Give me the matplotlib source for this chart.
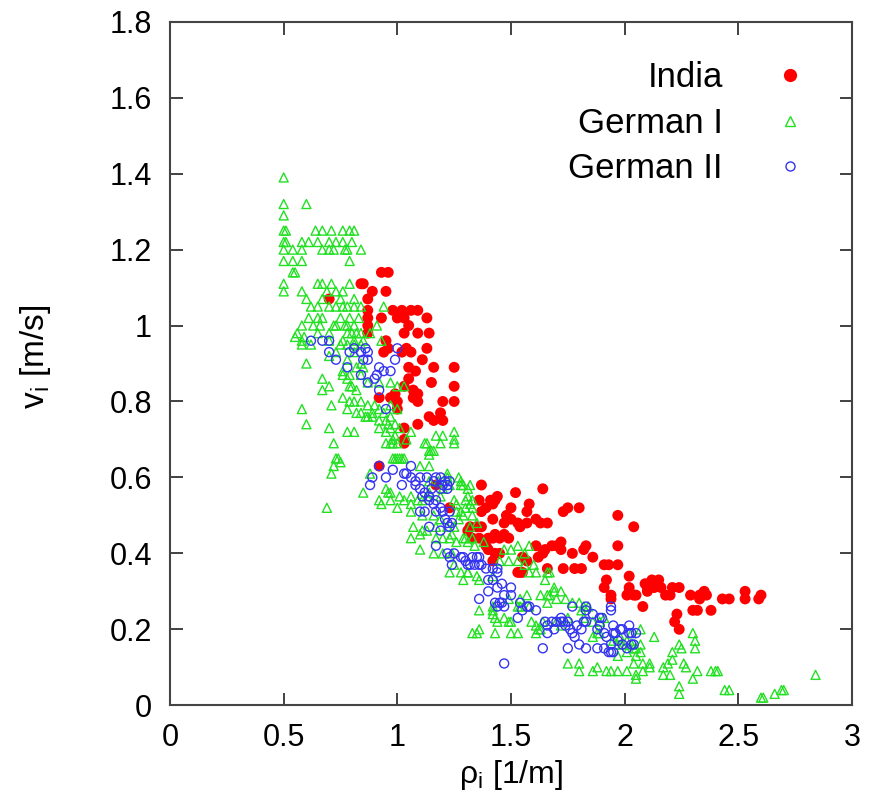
import matplotlib
matplotlib.use("Agg")
import matplotlib.pyplot as plt
from matplotlib.lines import Line2D

# ---------------- data ----------------
india_pts = [
    (0.70,1.07),(0.84,1.11),(0.85,1.11),(0.93,1.14),(0.96,1.14),(0.89,1.09),(0.95,1.09),(0.87,1.07),
    (0.87,1.04),(0.98,1.04),(1.02,1.04),(1.06,1.04),(1.09,1.04),
    (0.87,1.02),(0.93,1.02),(1.00,1.02),(1.03,1.02),(1.13,1.02),
    (0.87,1.00),(1.05,1.00),
    (0.87,0.98),(1.03,0.98),(1.09,0.98),(1.14,0.98),
    (0.95,0.96),
    (0.96,0.94),(1.04,0.94),(1.13,0.94),
    (0.94,0.93),(1.02,0.93),(1.06,0.93),
    (1.11,0.91),
    (1.05,0.89),(1.16,0.89),(1.25,0.89),
    (1.08,0.88),(1.05,0.86),(1.15,0.85),(1.25,0.84),(1.03,0.84),(1.07,0.83),
    (0.99,0.82),(0.97,0.81),(0.92,0.81),(1.00,0.80),(1.07,0.81),(1.09,0.82),(1.09,0.80),(1.00,0.78),
    (1.20,0.80),(1.25,0.80),(1.19,0.77),(1.14,0.76),(1.16,0.75),(1.20,0.75),(1.09,0.74),(1.03,0.73),
    (1.03,0.70),(1.03,0.69),(0.92,0.63),(1.17,0.58),(1.23,0.52),
    (1.37,0.58),(1.36,0.54),(1.41,0.54),(1.44,0.55),(1.39,0.52),(1.42,0.53),(1.43,0.54),(1.37,0.51),
    (1.50,0.52),(1.58,0.53),(1.52,0.56),(1.64,0.57),(1.75,0.52),(1.80,0.52),(1.73,0.51),(1.97,0.50),
    (2.04,0.47),(1.42,0.49),(1.48,0.50),(1.50,0.49),(1.47,0.48),(1.57,0.51),(1.57,0.48),(1.61,0.49),
    (1.63,0.48),(1.66,0.48),(1.32,0.47),(1.35,0.47),(1.37,0.47),(1.31,0.46),(1.33,0.44),(1.36,0.44),
    (1.40,0.44),(1.43,0.45),(1.47,0.45),(1.49,0.44),(1.45,0.44),(1.42,0.44),(1.53,0.48),(1.54,0.47),
    (1.39,0.42),(1.40,0.41),(1.45,0.40),(1.43,0.40),(1.42,0.38),(1.55,0.39),(1.57,0.38),(1.54,0.35),
    (1.53,0.35),(1.55,0.35),(1.61,0.42),(1.65,0.41),(1.68,0.42),(1.70,0.42),(1.72,0.43),(1.72,0.41),
    (1.62,0.39),(1.64,0.40),(1.66,0.36),(1.73,0.36),(1.78,0.36),(1.81,0.36),(1.77,0.40),(1.82,0.41),
    (1.83,0.42),(1.86,0.39),(1.91,0.37),(1.93,0.37),(1.97,0.37),(1.97,0.42),(1.92,0.33),(1.91,0.31),
    (1.94,0.29),(1.94,0.28),(2.02,0.34),(2.02,0.31),(2.02,0.30),(2.04,0.29),(2.01,0.29),(2.05,0.29),
    (2.08,0.26),(2.09,0.32),(2.12,0.33),(2.15,0.33),(2.10,0.31),(2.10,0.30),(2.13,0.31),(2.16,0.31),
    (2.18,0.29),(2.20,0.29),(2.21,0.31),(2.24,0.31),(2.23,0.24),(2.22,0.22),(2.24,0.20),(2.29,0.29),
    (2.33,0.29),(2.35,0.30),(2.36,0.29),(2.33,0.28),(2.30,0.25),(2.32,0.25),(2.38,0.25),(2.43,0.28),
    (2.46,0.28),(2.53,0.30),(2.53,0.28),(2.60,0.29),(2.59,0.28),
]

german1_pts = [
    (0.50,1.39),(0.50,1.32),(0.60,1.32),(0.50,1.29),
    (0.50,1.25),(0.51,1.25),(0.64,1.25),(0.67,1.25),(0.71,1.25),(0.76,1.25),(0.79,1.25),(0.81,1.25),
    (0.50,1.22),(0.51,1.22),(0.58,1.22),(0.61,1.22),(0.65,1.22),(0.70,1.22),(0.73,1.22),(0.76,1.22),(0.80,1.22),
    (0.50,1.20),(0.54,1.20),(0.58,1.20),(0.67,1.20),(0.70,1.20),(0.72,1.20),(0.77,1.20),(0.78,1.20),(0.84,1.20),
    (0.50,1.17),(0.54,1.17),(0.58,1.17),(0.79,1.17),(0.54,1.14),(0.55,1.14),
    (0.50,1.11),(0.65,1.11),(0.67,1.11),(0.71,1.11),(0.79,1.11),
    (0.50,1.09),(0.58,1.09),(0.69,1.09),(0.73,1.09),(0.76,1.09),
    (0.60,1.07),(0.67,1.07),(0.75,1.07),(0.81,1.07),
    (0.62,1.05),(0.65,1.05),(0.70,1.05),(0.73,1.05),(0.76,1.05),(0.78,1.05),(0.81,1.05),(0.84,1.05),(0.94,1.05),
    (0.61,1.02),(0.65,1.02),(0.67,1.02),(0.75,1.02),(0.79,1.02),(0.83,1.02),
    (0.58,1.00),(0.63,1.00),(0.66,1.00),(0.72,1.00),(0.73,1.00),(0.77,1.00),(0.78,1.00),(0.81,1.00),(0.91,1.00),
    (0.56,0.98),(0.65,0.98),(0.70,0.98),(0.78,0.98),(0.80,0.98),(0.82,0.98),(0.84,0.98),(0.88,0.98),
    (0.55,0.97),(0.59,0.97),
    (0.58,0.96),(0.70,0.96),(0.76,0.96),(0.81,0.96),(0.85,0.96),(0.93,0.96),
    (0.58,0.95),(0.62,0.95),(0.75,0.95),(0.78,0.95),(0.81,0.95),(0.84,0.95),
    (0.60,0.90),(0.70,0.92),(0.73,0.93),(0.78,0.91),(0.81,0.93),(0.84,0.90),
    (0.76,0.88),(0.79,0.87),(0.82,0.89),(0.85,0.89),
    (0.67,0.86),(0.76,0.87),(0.78,0.86),(0.80,0.84),(0.84,0.87),(0.87,0.85),(0.92,0.85),(0.97,0.85),(1.00,0.84),(1.03,0.84),
    (0.67,0.83),(0.70,0.84),(0.79,0.84),(0.82,0.83),
    (0.58,0.78),(0.71,0.79),(0.76,0.81),(0.79,0.80),(0.81,0.80),(0.84,0.80),(0.87,0.79),(0.90,0.79),(0.92,0.78),(0.97,0.79),(1.00,0.78),
    (0.78,0.78),(0.84,0.77),(0.89,0.77),(0.94,0.77),
    (0.60,0.74),(0.70,0.73),(0.78,0.72),(0.81,0.72),(0.86,0.76),(0.89,0.76),(0.92,0.75),(0.97,0.76),(0.99,0.74),(0.92,0.73),(0.97,0.73),
    (0.72,0.69),(0.99,0.71),(0.97,0.69),(1.04,0.70),
    (0.73,0.65),(0.98,0.65),(1.01,0.65),(0.74,0.65),(0.72,0.63),(0.71,0.61),(0.69,0.52),
    (0.99,0.65),(1.03,0.65),(1.14,0.63),
    (0.85,0.56),(0.95,0.57),(0.97,0.56),(0.93,0.53),(1.00,0.52),(1.06,0.55),(1.09,0.54),(1.13,0.55),
    (1.22,0.60),(1.28,0.59),(1.28,0.58),(1.32,0.58),(1.31,0.55),(1.32,0.53),(1.33,0.52),(1.26,0.51),(1.29,0.50),
    (1.07,0.47),(1.11,0.46),(1.17,0.47),(1.22,0.47),(1.24,0.45),
    (0.82,0.77),(0.87,0.76),(0.95,0.75),(0.96,0.74),(1.01,0.73),(0.95,0.72),(0.98,0.70),(1.00,0.69),
    (1.06,0.72),(1.13,0.69),(1.16,0.67),(1.14,0.66),(1.17,0.71),(1.25,0.72),(1.25,0.70),(1.20,0.71),
    (0.75,0.64),(0.88,0.61),(0.96,0.56),(0.92,0.54),(0.97,0.54),
    (1.01,0.55),(1.03,0.54),(1.06,0.53),(1.11,0.54),(1.14,0.56),(1.19,0.55),(1.20,0.57),(1.23,0.58),
    (1.27,0.60),(1.31,0.57),(1.33,0.54),(1.30,0.52),(1.27,0.49),(1.25,0.47),(1.19,0.49),(1.16,0.50),
    (1.11,0.50),(1.06,0.51),(1.14,0.59),(1.18,0.59),(1.22,0.61),(1.00,0.65),(1.02,0.65),(1.10,0.63),
    (1.14,0.67),(1.12,0.69),(1.19,0.69),(1.25,0.69),(0.95,0.69),(0.98,0.69),
    (1.06,0.44),(1.10,0.45),(1.13,0.46),(1.17,0.44),(1.20,0.44),(1.23,0.44),(1.26,0.43),(1.29,0.44),
    (1.31,0.43),(1.10,0.41),(1.16,0.40),(1.20,0.40),(1.24,0.40),(1.25,0.37),(1.28,0.35),(1.31,0.35),(1.23,0.35),
    (1.15,0.67),(1.29,0.58),(1.25,0.54),(1.26,0.53),(1.30,0.54),(1.28,0.51),(1.33,0.50),(1.32,0.47),
    (1.35,0.48),(1.30,0.44),(1.33,0.44),(1.34,0.42),(1.38,0.43),(1.47,0.41),(1.50,0.41),(1.53,0.42),
    (1.58,0.42),(1.56,0.40),(1.45,0.38),(1.49,0.38),(1.53,0.38),(1.56,0.37),(1.60,0.37),(1.58,0.35),
    (1.61,0.35),(1.66,0.35),(1.67,0.35),(1.69,0.31),(1.69,0.30),(1.66,0.29),(1.57,0.29),(1.54,0.28),
    (1.53,0.26),(1.49,0.28),(1.42,0.26),(1.42,0.24),(1.44,0.22),(1.49,0.22),(1.36,0.20),(1.35,0.19),
    (1.43,0.19),(1.53,0.19),(1.59,0.22),(1.61,0.21),(1.63,0.20),(1.70,0.22),(1.75,0.23),(1.82,0.26),
    (1.84,0.26),(1.88,0.19),(1.98,0.18),(2.03,0.19),
    (1.29,0.33),(1.36,0.33),(1.42,0.34),(1.31,0.35),(1.35,0.34),(1.36,0.25),(1.42,0.25),(1.43,0.23),
    (1.47,0.23),(1.50,0.22),(1.54,0.26),(1.58,0.26),(1.63,0.29),(1.66,0.27),(1.67,0.29),(1.65,0.33),
    (1.72,0.30),(1.70,0.28),(1.74,0.28),(1.77,0.27),(1.80,0.27),(1.81,0.25),(1.82,0.23),(1.86,0.22),
    (1.89,0.22),(1.91,0.23),(1.33,0.19),(1.50,0.19),(1.61,0.19),(1.62,0.20),(1.64,0.22),(1.72,0.21),
    (1.75,0.11),(1.80,0.11),(1.80,0.09),(1.86,0.09),(1.88,0.10),(1.92,0.09),(1.97,0.09),(2.01,0.09),
    (2.05,0.08),(2.04,0.11),(2.05,0.13),(2.07,0.14),(1.86,0.18),(1.89,0.19),(1.95,0.17),(1.97,0.16),
    (1.99,0.16),(2.01,0.17),(2.04,0.15),(2.05,0.15),
    (2.07,0.20),(2.13,0.18),(2.07,0.16),(2.03,0.16),(2.01,0.14),(1.97,0.13),(1.94,0.09),(2.05,0.07),
    (2.08,0.11),(2.11,0.11),(2.11,0.10),(2.08,0.09),(2.17,0.10),(2.17,0.08),(2.20,0.08),(2.19,0.11),
    (2.21,0.14),(2.21,0.12),(2.24,0.16),(2.25,0.15),(2.26,0.11),(2.27,0.10),(2.30,0.19),(2.31,0.17),
    (2.31,0.15),(2.30,0.07),(2.32,0.09),(2.38,0.09),(2.40,0.09),(2.41,0.09),(2.24,0.05),(2.24,0.03),
    (2.44,0.04),(2.46,0.04),(2.60,0.02),(2.61,0.02),(2.66,0.03),(2.69,0.04),(2.70,0.04),(2.84,0.08),
]

german2_pts = [
    (0.62,0.96),(0.67,0.96),(0.70,0.96),(0.70,0.93),(0.73,0.91),(0.78,0.89),(0.79,0.93),(0.81,0.94),
    (0.84,0.93),(0.86,0.94),(0.87,0.93),(0.85,0.91),(0.87,0.91),(0.84,0.87),(0.87,0.85),(0.90,0.86),
    (0.91,0.87),(0.92,0.89),(0.94,0.88),(0.97,0.88),(0.92,0.83),(0.95,0.78),(0.99,0.91),(1.00,0.94),
    (0.92,0.63),(0.98,0.62),(1.06,0.63),(1.04,0.61),(1.03,0.61),(1.06,0.60),(1.08,0.59),(1.10,0.60),
    (1.13,0.60),(1.16,0.59),(1.19,0.60),(1.21,0.59),(1.23,0.59),(1.22,0.57),(1.19,0.57),(1.15,0.57),
    (1.12,0.56),(1.10,0.57),(1.08,0.58),(1.02,0.58),(0.95,0.60),(0.89,0.60),(0.88,0.58),(1.11,0.55),
    (1.14,0.54),(1.16,0.53),(1.17,0.51),(1.19,0.52),(1.20,0.51),(1.23,0.51),(1.21,0.49),(1.22,0.48),
    (1.10,0.51),(1.14,0.47),(1.19,0.46),(1.17,0.42),(1.22,0.40),(1.25,0.40),(1.28,0.39),(1.30,0.38),
    (1.33,0.39),(1.35,0.39),(1.34,0.37),(1.31,0.37),(1.24,0.37),(1.23,0.47),
    (1.17,0.60),(1.20,0.58),(1.22,0.58),(1.14,0.55),(1.17,0.54),(1.12,0.51),(1.24,0.48),(1.23,0.39),
    (1.29,0.39),(1.32,0.37),(1.36,0.39),(1.37,0.37),(1.39,0.36),(1.42,0.36),(1.44,0.36),(1.40,0.33),
    (1.42,0.33),(1.46,0.32),(1.47,0.29),(1.50,0.29),(1.44,0.31),(1.36,0.28),(1.40,0.30),(1.45,0.27),
    (1.47,0.26),(1.44,0.26),(1.54,0.27),(1.57,0.26),(1.61,0.25),(1.53,0.23),(1.65,0.22),(1.68,0.22),
    (1.72,0.22),(1.77,0.26),(1.83,0.26),(1.86,0.24),(1.82,0.22),(1.79,0.21),(1.74,0.21),(1.69,0.20),
    (1.66,0.19),(1.95,0.21),(1.98,0.20),(2.02,0.21),(1.94,0.26),(1.94,0.25),
    (1.36,0.37),(1.44,0.35),(1.50,0.31),(1.43,0.27),(1.46,0.27),(1.55,0.25),(1.58,0.26),(1.66,0.21),
    (1.70,0.22),(1.72,0.23),(1.73,0.22),(1.75,0.22),(1.76,0.20),(1.77,0.19),(1.78,0.18),(1.81,0.20),
    (1.83,0.22),(1.83,0.25),(1.88,0.20),(1.89,0.23),(1.92,0.18),(1.95,0.19),(1.97,0.17),(1.94,0.16),
    (1.91,0.15),(1.88,0.15),(1.94,0.14),(1.95,0.14),(1.99,0.20),(2.01,0.15),(2.04,0.16),(2.05,0.19),
    (2.02,0.19),(1.83,0.15),(1.80,0.16),(1.75,0.15),(1.64,0.15),(1.47,0.11),
    (1.90,0.23),(1.89,0.21),(1.91,0.19),(1.96,0.19),(2.03,0.19),(1.99,0.16),(2.03,0.16),(1.93,0.14),
]

series_labels = ["India", "German I", "German II"]
x_ticks = [0, 0.5, 1, 1.5, 2, 2.5, 3]
x_tick_labels = ["0", "0.5", "1", "1.5", "2", "2.5", "3"]
y_ticks = [0, 0.2, 0.4, 0.6, 0.8, 1.0, 1.2, 1.4, 1.6, 1.8]
y_tick_labels = ["0", "0.2", "0.4", "0.6", "0.8", "1", "1.2", "1.4", "1.6", "1.8"]

# ---------------- style ----------------
plt.rcParams["font.family"] = ["Liberation Sans", "DejaVu Sans"]
plt.rcParams["mathtext.fontset"] = "custom"
plt.rcParams["mathtext.rm"] = "Liberation Sans"
plt.rcParams["mathtext.it"] = "Liberation Sans"

RED, GREEN, BLUE = "#ff0000", "#22e022", "#3434f0"

fig = plt.figure(figsize=(8.81, 8.06), dpi=100)
ax = fig.add_axes([0.193, 0.125, 0.774, 0.848])

ix, iy = zip(*india_pts)
g1x, g1y = zip(*german1_pts)
g2x, g2y = zip(*german2_pts)

ax.scatter(ix, iy, s=62, marker="o", color=RED, edgecolors="none", zorder=2)
ax.scatter(g1x, g1y, s=42, marker="^", facecolors="none", edgecolors=GREEN,
           linewidths=1.0, zorder=3)
ax.scatter(g2x, g2y, s=42, marker="o", facecolors="none", edgecolors=BLUE,
           linewidths=1.0, zorder=4)

ax.set_xlim(0, 3)
ax.set_ylim(0, 1.8)
ax.set_xticks(x_ticks)
ax.set_xticklabels(x_tick_labels)
ax.set_yticks(y_ticks)
ax.set_yticklabels(y_tick_labels)
ax.tick_params(direction="in", length=9, width=1.3, color="#333333",
               labelsize=22, top=True, right=True, pad=13)
for sp in ax.spines.values():
    sp.set_color("#444444")
    sp.set_linewidth(1.5)

ax.set_xlabel(r"ρ$_\mathrm{i}$ [1/m]", fontsize=23)
ax.set_ylabel(r"v$_\mathrm{i}$ [m/s]", fontsize=24)
ax.xaxis.set_label_coords(0.5, -0.077)
ax.yaxis.set_label_coords(-0.171, 0.51)

handles = [
    Line2D([], [], linestyle="none", marker="o", markersize=9.5, color=RED,
           markeredgecolor="none"),
    Line2D([], [], linestyle="none", marker="^", markersize=6.5,
           markerfacecolor="none", markeredgecolor=GREEN, markeredgewidth=1.0),
    Line2D([], [], linestyle="none", marker="o", markersize=6.5,
           markerfacecolor="none", markeredgecolor=BLUE, markeredgewidth=1.0),
]
leg = ax.legend(handles, series_labels, loc="upper right",
                bbox_to_anchor=(0.981, 0.988), frameon=False,
                markerfirst=False, fontsize=25, handletextpad=1.45,
                labelspacing=0.36, handlelength=1.0)

fig.savefig("out.png", dpi=100, facecolor="white")
